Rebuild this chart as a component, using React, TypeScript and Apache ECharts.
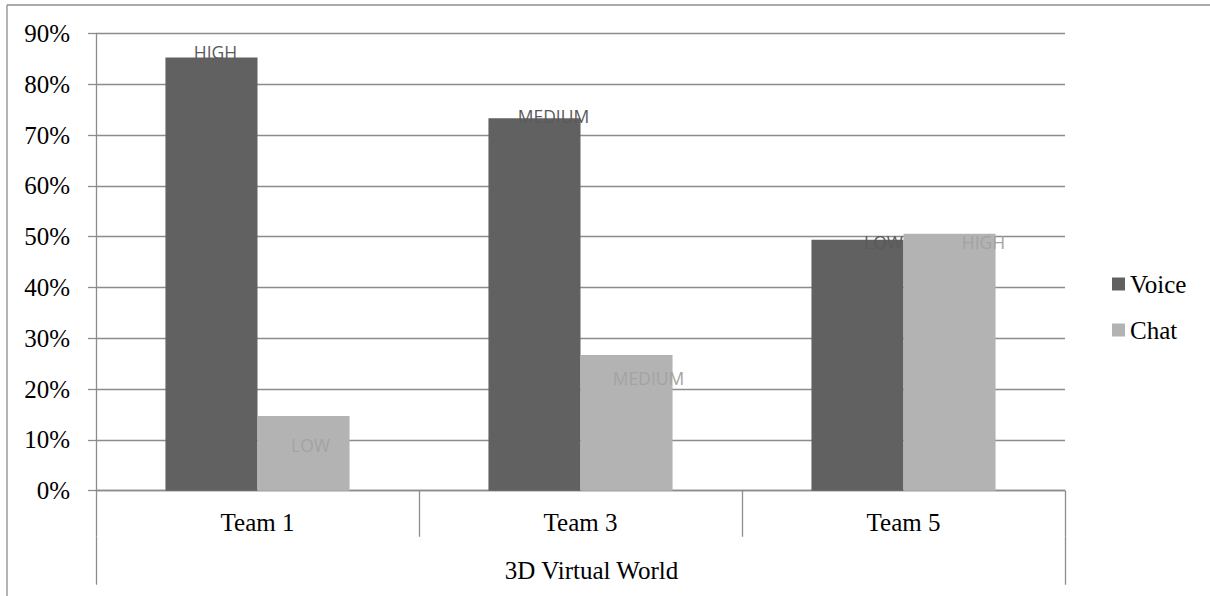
import React, { useEffect, useRef } from "react";
import * as echarts from "echarts";

const categories = ["Team 1", "Team 3", "Team 5"];
const groupLabel = ["3D Virtual World"];
const voiceValues = [85.3, 73.3, 49.4];
const chatValues = [14.7, 26.7, 50.6];
const voiceLevels = ["HIGH", "MEDIUM", "LOW"];
const chatLevels = ["LOW", "MEDIUM", "HIGH"];

// label offsets (styling) relative to bar top-centre
const voiceLabelOffsets = [[4, -5], [19, -2], [26, 2]];
const chatLabelOffsets = [[7, 29], [22, 23], [34, 8]];

const SERIF = "'Liberation Serif', 'Times New Roman', serif";
const SANS = "'Open Sans', sans-serif";
const GRID_COLOR = "#8c8c8c";

function buildData(values: number[], levels: string[], offsets: number[][], color: string) {
  return values.map((v, i) => ({
    value: v,
    label: {
      show: true,
      formatter: levels[i],
      position: ["50%", 0],
      align: "center",
      verticalAlign: "middle",
      offset: offsets[i],
      color,
      fontFamily: SANS,
      fontSize: 17.5,
    },
  }));
}

export default function App() {
  const ref = useRef<HTMLDivElement>(null);
  useEffect(() => {
    document.body.style.margin = "0";
    const chart = echarts.init(ref.current!, null, { renderer: "svg" });
    chart.setOption({
      animation: false,
      backgroundColor: "#ffffff",
      textStyle: { fontFamily: SERIF },
      grid: { left: 96, right: 145, top: 33.5, bottom: 105.3, containLabel: false },
      legend: {
        orient: "vertical",
        left: 1107,
        top: 266.5,
        itemWidth: 13,
        itemHeight: 13,
        itemGap: 21,
        icon: "rect",
        textStyle: { fontFamily: SERIF, fontSize: 25, color: "#000" },
        data: ["Voice", "Chat"],
      },
      xAxis: [
        {
          type: "category",
          data: categories,
          position: "bottom",
          axisLine: { show: true, lineStyle: { color: GRID_COLOR, width: 1.3 } },
          axisTick: { show: true, interval: 0, length: 46, lineStyle: { color: GRID_COLOR, width: 1.3 } },
          axisLabel: { fontFamily: SERIF, fontSize: 25, color: "#000", margin: 19 },
        },
        {
          type: "category",
          data: groupLabel,
          position: "bottom",
          offset: 46,
          axisLine: { show: false },
          axisTick: { show: true, interval: 0, length: 48, lineStyle: { color: GRID_COLOR, width: 1.3 } },
          axisLabel: { fontFamily: SERIF, fontSize: 25, color: "#000", margin: 21, padding: [0, 0, 0, 22] },
        },
      ],
      yAxis: {
        type: "value",
        min: 0,
        max: 90,
        interval: 10,
        axisLine: { show: true, lineStyle: { color: GRID_COLOR, width: 1.3 } },
        axisTick: { show: true, length: 8, lineStyle: { color: GRID_COLOR, width: 1.3 } },
        splitLine: { show: true, lineStyle: { color: GRID_COLOR, width: 1.3 } },
        axisLabel: {
          fontFamily: SERIF,
          fontSize: 25,
          color: "#000",
          margin: 26,
          formatter: (v: number) => v + "%",
        },
      },
      series: [
        {
          name: "Voice",
          type: "bar",
          xAxisIndex: 0,
          barGap: "0%",
          barCategoryGap: "43%",
          itemStyle: { color: "#616161" },
          data: buildData(voiceValues, voiceLevels, voiceLabelOffsets, "#5a5a5a"),
        },
        {
          name: "Chat",
          type: "bar",
          xAxisIndex: 0,
          barGap: "0%",
          barCategoryGap: "43%",
          itemStyle: { color: "#b3b3b3" },
          data: buildData(chatValues, chatLevels, chatLabelOffsets, "#a3a3a3"),
        },
      ],
      graphic: [
        { type: "line", shape: { x1: 7, y1: 5, x2: 1210, y2: 5 }, style: { stroke: GRID_COLOR, lineWidth: 1.3 } },
        { type: "line", shape: { x1: 7, y1: 5, x2: 7, y2: 596 }, style: { stroke: GRID_COLOR, lineWidth: 1.3 } },
      ],
    });
    return () => chart.dispose();
  }, []);
  return <div ref={ref} style={{ width: 1210, height: 596 }} />;
}
